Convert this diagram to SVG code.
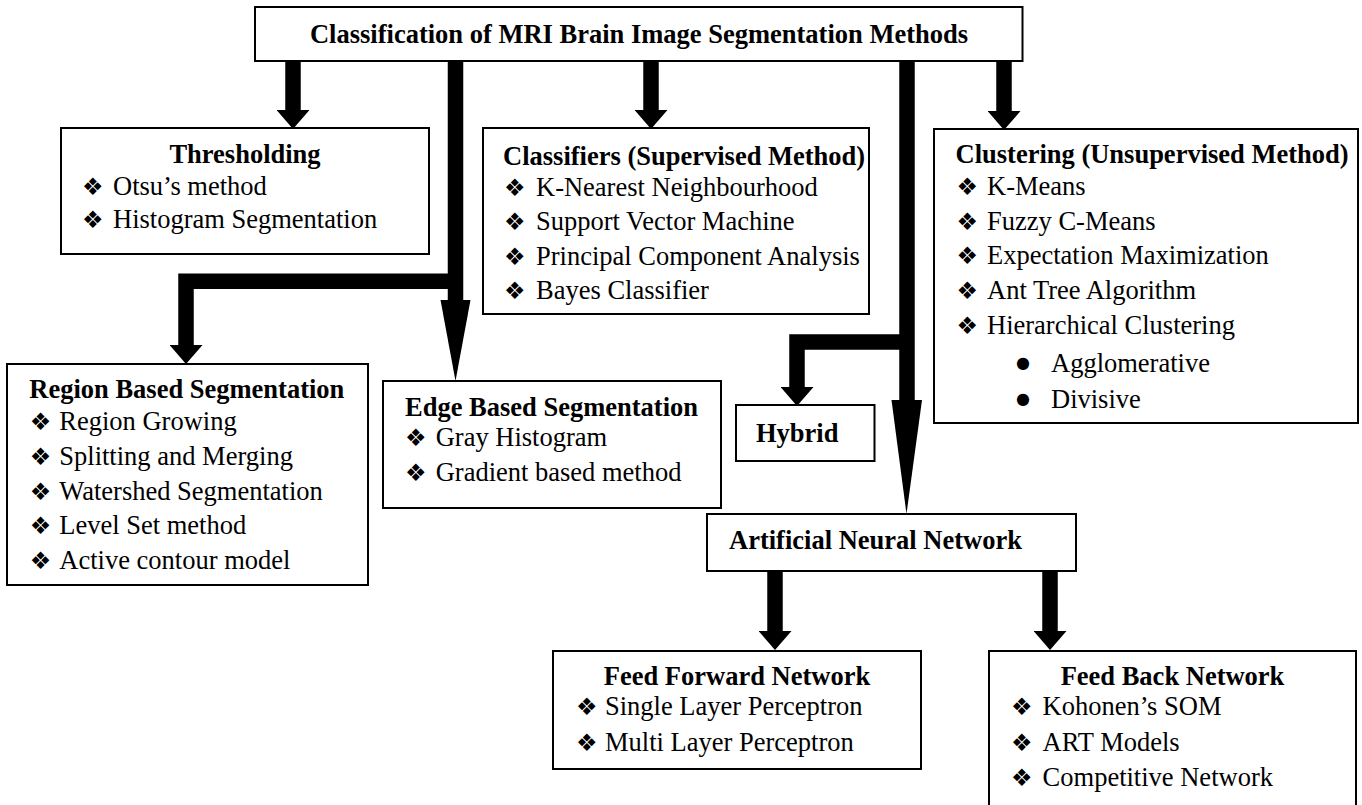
<svg xmlns="http://www.w3.org/2000/svg" width="1362" height="805" viewBox="0 0 1362 805">
<style>
.box{fill:#fff;stroke:#000;stroke-width:2}
.t{font-family:"Liberation Serif","Times New Roman",serif;font-size:26.5px;fill:#000}
.b{font-weight:bold}
.c{text-anchor:middle}
.bl{font-family:"DejaVu Sans",sans-serif;font-size:24px;fill:#000}
.dot{font-family:"DejaVu Sans",sans-serif;font-size:16px;fill:#000}
.sh{fill:none;stroke:#000;stroke-width:15.5;stroke-linejoin:miter}
</style>
<defs>
<marker id="ah" markerUnits="userSpaceOnUse" markerWidth="19" markerHeight="33" viewBox="0 0 19 33" refX="0" refY="16.5" orient="auto">
<path d="M0,0 L19,16.5 L0,33 Z" fill="#000"/>
</marker>
</defs>
<rect width="1362" height="805" fill="#fff"/>

<g id="connectors">
<path class="sh" d="M293,61 V110" marker-end="url(#ah)"/>
<path class="sh" d="M651,61 V110" marker-end="url(#ah)"/>
<path class="sh" d="M1004,61 V111" marker-end="url(#ah)"/>
<path class="sh" d="M455.5,61 V301"/>
<polygon points="440.5,300 470.5,300 455.5,381" fill="#000"/>
<path class="sh" d="M455.5,281.3 H186 V345" marker-end="url(#ah)"/>
<path class="sh" d="M907,61 V401"/>
<polygon points="891.5,400 922,400 906.5,514" fill="#000"/>
<path class="sh" d="M907,342 H797 V387" marker-end="url(#ah)"/>
<path class="sh" d="M775,571 V631" marker-end="url(#ah)"/>
<path class="sh" d="M1050,571 V631" marker-end="url(#ah)"/>
</g>

<g id="title">
<rect class="box" x="255" y="7" width="767.5" height="54"/>
<text class="t b c" x="639" y="43">Classification of MRI Brain Image Segmentation Methods</text>
</g>

<g id="thresholding">
<rect class="box" x="61" y="128" width="368" height="126"/>
<text class="t b c" x="245" y="163">Thresholding</text>
<text class="bl" x="82" y="195">❖</text><text class="t" x="113" y="195">Otsu’s method</text>
<text class="bl" x="82" y="228">❖</text><text class="t" x="113" y="228">Histogram Segmentation</text>
</g>

<g id="classifiers">
<rect class="box" x="483" y="128" width="386" height="186"/>
<text class="t b" x="503" y="165">Classifiers (Supervised Method)</text>
<text class="bl" x="504" y="196">❖</text><text class="t" x="536" y="196">K-Nearest Neighbourhood</text>
<text class="bl" x="504" y="230">❖</text><text class="t" x="536" y="230">Support Vector Machine</text>
<text class="bl" x="504" y="265">❖</text><text class="t" x="536" y="265">Principal Component Analysis</text>
<text class="bl" x="504" y="299">❖</text><text class="t" x="536" y="299">Bayes Classifier</text>
</g>

<g id="clustering">
<rect class="box" x="934" y="129" width="424" height="294"/>
<text class="t b" x="955.5" y="163">Clustering (Unsupervised Method)</text>
<text class="bl" x="956.5" y="195">❖</text><text class="t" x="987" y="195">K-Means</text>
<text class="bl" x="956.5" y="230">❖</text><text class="t" x="987" y="230">Fuzzy C-Means</text>
<text class="bl" x="956.5" y="264">❖</text><text class="t" x="987" y="264">Expectation Maximization</text>
<text class="bl" x="956.5" y="299">❖</text><text class="t" x="987" y="299">Ant Tree Algorithm</text>
<text class="bl" x="956.5" y="334">❖</text><text class="t" x="987" y="334">Hierarchical Clustering</text>
<text class="dot" x="1016" y="368">●</text><text class="t" x="1051" y="372">Agglomerative</text>
<text class="dot" x="1016" y="404">●</text><text class="t" x="1051" y="408">Divisive</text>
</g>

<g id="region">
<rect class="box" x="7" y="364" width="361" height="221"/>
<text class="t b" x="29.3" y="398">Region Based Segmentation</text>
<text class="bl" x="29.7" y="430">❖</text><text class="t" x="59.3" y="430">Region Growing</text>
<text class="bl" x="29.7" y="465">❖</text><text class="t" x="59.3" y="465">Splitting and Merging</text>
<text class="bl" x="29.7" y="500">❖</text><text class="t" x="59.3" y="500">Watershed Segmentation</text>
<text class="bl" x="29.7" y="534">❖</text><text class="t" x="59.3" y="534">Level Set method</text>
<text class="bl" x="29.7" y="569">❖</text><text class="t" x="59.3" y="569">Active contour model</text>
</g>

<g id="edge">
<rect class="box" x="383" y="381" width="338" height="127"/>
<text class="t b" x="405" y="416">Edge Based Segmentation</text>
<text class="bl" x="405" y="446">❖</text><text class="t" x="435.7" y="446">Gray Histogram</text>
<text class="bl" x="405" y="481">❖</text><text class="t" x="435.7" y="481">Gradient based method</text>
</g>

<g id="hybrid">
<rect class="box" x="736" y="405" width="138.5" height="56"/>
<text class="t b" x="756" y="442">Hybrid</text>
</g>

<g id="ann">
<rect class="box" x="707" y="514" width="369" height="57"/>
<text class="t b" x="729" y="549">Artificial Neural Network</text>
</g>

<g id="feedforward">
<rect class="box" x="553" y="651" width="368" height="118"/>
<text class="t b c" x="737" y="685">Feed Forward Network</text>
<text class="bl" x="576" y="715">❖</text><text class="t" x="605" y="715">Single Layer Perceptron</text>
<text class="bl" x="576" y="751">❖</text><text class="t" x="605" y="751">Multi Layer Perceptron</text>
</g>

<g id="feedback">
<rect class="box" x="989" y="651" width="367" height="170"/>
<text class="t b c" x="1172.5" y="685">Feed Back Network</text>
<text class="bl" x="1011" y="715">❖</text><text class="t" x="1042.6" y="715">Kohonen’s SOM</text>
<text class="bl" x="1011" y="751">❖</text><text class="t" x="1042.6" y="751">ART Models</text>
<text class="bl" x="1011" y="786">❖</text><text class="t" x="1042.6" y="786">Competitive Network</text>
</g>
</svg>
